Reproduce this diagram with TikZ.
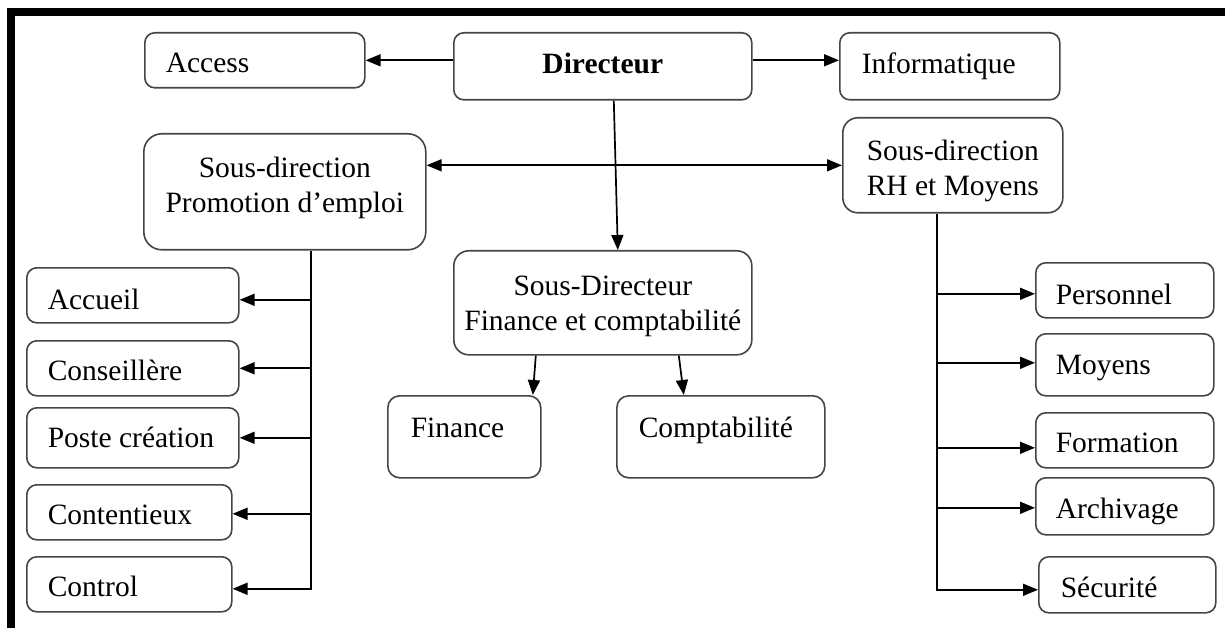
\documentclass[tikz,border=0pt]{standalone}
\usepackage{fontspec}
\setmainfont{Liberation Serif}
\usetikzlibrary{arrows.meta}
\definecolor{boxline}{HTML}{454545}
\newcommand\orgfont{\fontsize{29.5}{35}\selectfont}
\tikzset{
  box/.style={draw=boxline, line width=1.6pt, rounded corners=10pt, fill=white,
    anchor=north west, inner ysep=0pt, font=\orgfont},
  tip/.tip={Triangle[length=15pt,width=12pt]},
  conn/.style={line width=1.7pt, -tip},
  biconn/.style={line width=1.7pt, tip-tip},
  frame/.style={line width=8pt, line join=miter}
}
\begin{document}
\begin{tikzpicture}[x=1pt, y=-1pt]
\useasboundingbox (0,0) rectangle (1225,628);

% outer frame (top and left edges only)
\draw[frame] (1225,12) -- (11,12) -- (11,628);

% top row
\node[box, minimum width=220pt, minimum height=55pt, align=flush left, inner xsep=21pt, text width=178pt,
      text height=24.6pt, text depth=0pt] (acc) at (144,32) {Access};
\node[box, minimum width=298pt, minimum height=67pt, align=center, font=\orgfont\bfseries,
      text height=14.6pt, text depth=0pt] (dir) at (453,32) {Directeur};
\node[box, minimum width=220pt, minimum height=67pt, align=flush left, inner xsep=22pt, text width=176pt,
      text height=14.6pt, text depth=0pt] (info) at (839,32) {Informatique};

% sub-directions
\node[box, rounded corners=18pt, minimum width=282pt, minimum height=116pt, align=center,
      text height=41.6pt, text depth=0pt] (prom) at (143,133) {Sous-direction\\Promotion d’emploi};
\node[box, rounded corners=15pt, minimum width=220pt, minimum height=95pt, align=center,
      text height=60.6pt, text depth=0pt] (rh) at (842,117) {Sous-direction\\RH et Moyens};
\node[box, rounded corners=15pt, minimum width=298pt, minimum height=104pt, align=center,
      text height=55.6pt, text depth=0pt] (sd) at (453,250) {Sous-Directeur\\Finance et comptabilité};

% finance branch
\node[box, rounded corners=12pt, minimum width=153pt, minimum height=82pt, align=flush left, inner xsep=23pt,
      text width=107pt, text height=1.6pt, text depth=0pt] (fin) at (387,395) {Finance};
\node[box, rounded corners=12pt, minimum width=208pt, minimum height=82pt, align=flush left, inner xsep=22pt,
      text width=164pt, text height=1.6pt, text depth=0pt] (comp) at (616,395) {Comptabilité};

% promotion branch
\node[box, minimum width=212pt, minimum height=55pt, align=flush left, inner xsep=21pt, text width=170pt,
      text height=27.6pt, text depth=0pt] (accu) at (26,267) {Accueil};
\node[box, minimum width=212pt, minimum height=55pt, align=flush left, inner xsep=21pt, text width=170pt,
      text height=24.6pt, text depth=0pt] (cons) at (26,340) {Conseillère};
\node[box, minimum width=212pt, minimum height=60pt, align=flush left, inner xsep=21pt, text width=170pt,
      text height=19.6pt, text depth=0pt] (poste) at (26,407) {Poste création};
\node[box, minimum width=205pt, minimum height=55pt, align=flush left, inner xsep=21pt, text width=163pt,
      text height=24.6pt, text depth=0pt] (cont) at (26,484) {Contentieux};
\node[box, minimum width=205pt, minimum height=55pt, align=flush left, inner xsep=21pt, text width=163pt,
      text height=23.6pt, text depth=0pt] (ctrl) at (26,556) {Control};

% RH branch
\node[box, minimum width=178pt, minimum height=55pt, align=flush left, inner xsep=20pt, text width=138pt,
      text height=27.6pt, text depth=0pt] (pers) at (1035,262) {Personnel};
\node[box, minimum width=178pt, minimum height=62pt, align=flush left, inner xsep=20pt, text width=138pt,
      text height=19.6pt, text depth=0pt] (moy) at (1035,333) {Moyens};
\node[box, minimum width=178pt, minimum height=55pt, align=flush left, inner xsep=20pt, text width=138pt,
      text height=24.6pt, text depth=0pt] (form) at (1035,412) {Formation};
\node[box, minimum width=178pt, minimum height=57pt, align=flush left, inner xsep=20pt, text width=138pt,
      text height=24.6pt, text depth=0pt] (arch) at (1035,477) {Archivage};
\node[box, minimum width=177pt, minimum height=56pt, align=flush left, inner xsep=22pt, text width=133pt,
      text height=24.6pt, text depth=0pt] (sec) at (1038,556) {Sécurité};

% connectors from the director
\draw[conn] (dir.west |- acc.east) -- (acc.east);
\draw[conn] (dir.east |- acc.east) -- (info.west |- acc.east);
\draw[biconn] (prom.east |- rh.west) -- (rh.west);
\draw[conn] ([xshift=11pt]dir.south) -- ([xshift=15pt]sd.north);

% finance connectors
\draw[conn] ([xshift=-67pt]sd.south) -- ([xshift=68.5pt]fin.north);
\draw[conn] ([xshift=76pt]sd.south) -- ([xshift=-37pt]comp.north);

% promotion trunk
\coordinate (lt) at ([xshift=26pt]prom.south);
\draw[conn] (lt) |- ([yshift=-4.5pt]ctrl.east);
\draw[conn] ([yshift=-4.5pt]lt |- accu.east) -- ([yshift=-4.5pt]accu.east);
\draw[conn] (lt |- cons.east) -- (cons.east);
\draw[conn] (lt |- poste.east) -- (poste.east);
\draw[conn] ([yshift=-1.5pt]lt |- cont.east) -- ([yshift=-1.5pt]cont.east);

% RH trunk
\coordinate (rt) at ([xshift=-16pt]rh.south);
\draw[conn] (rt) |- ([yshift=-5pt]sec.west);
\draw[conn] ([yshift=-3.5pt]rt |- pers.west) -- ([yshift=-3.5pt]pers.west);
\draw[conn] ([yshift=2pt]rt |- moy.west) -- ([yshift=2pt]moy.west);
\draw[conn] ([yshift=-7.5pt]rt |- form.west) -- ([yshift=-7.5pt]form.west);
\draw[conn] ([yshift=-1.5pt]rt |- arch.west) -- ([yshift=-1.5pt]arch.west);
\end{tikzpicture}
\end{document}
